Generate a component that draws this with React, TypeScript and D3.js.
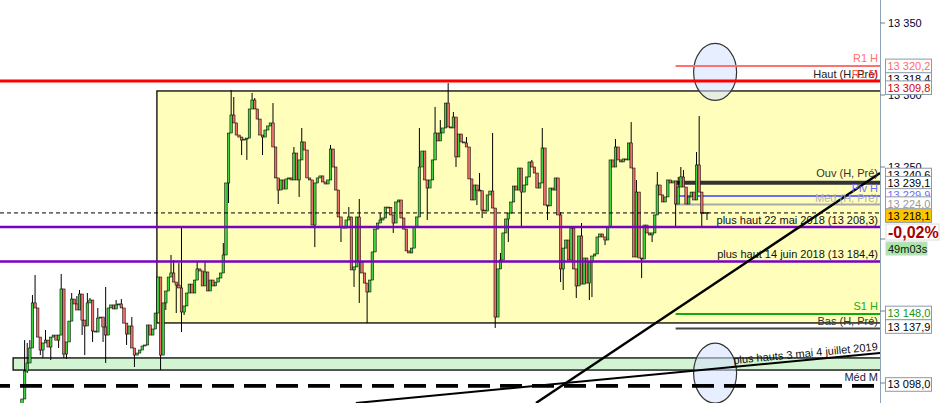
import * as d3 from "d3";

// Bougies (cours de clôture, l'ouverture = clôture précédente)
const firstOpen = 13085.4;
const closes = [
  13088.9, 13108.3, 13113.9, 13124.3, 13155.6, 13152.1, 13131.9, 13122.9, 13127.8, 13129.8,
  13125.0, 13131.9, 13133.3, 13129.8, 13133.3, 13165.3, 13120.1, 13128.5, 13143.0, 13158.3,
  13154.9, 13150.7, 13161.8, 13143.7, 13139.6, 13155.6, 13157.6, 13136.1, 13135.4, 13145.1,
  13145.8, 13138.9, 13133.3, 13152.1, 13154.2, 13151.4, 13154.2, 13154.9, 13152.1, 13141.6,
  13134.0, 13139.6, 13124.3, 13119.4, 13120.8, 13122.9, 13125.7, 13126.4, 13140.3, 13133.3,
  13137.5, 13148.6, 13173.6, 13119.4, 13155.6, 13163.9, 13173.6, 13176.4, 13170.1, 13168.0,
  13166.0, 13149.3, 13153.5, 13162.5, 13168.7, 13162.5, 13171.5, 13179.2, 13177.8, 13167.4,
  13177.1, 13163.9, 13171.5, 13167.4, 13170.1, 13172.9, 13176.4, 13188.9, 13238.9, 13273.6,
  13286.1, 13280.6, 13272.2, 13270.8, 13268.7, 13269.4, 13270.1, 13290.3, 13296.5, 13290.3,
  13283.3, 13272.2, 13270.8, 13275.7, 13278.5, 13280.6, 13263.9, 13242.4, 13234.0, 13241.0,
  13234.7, 13241.7, 13242.4, 13241.0, 13259.7, 13241.0, 13254.9, 13267.4, 13261.8, 13242.4,
  13241.0, 13209.7, 13238.9, 13242.4, 13243.8, 13239.6, 13238.2, 13241.0, 13262.5, 13250.0,
  13234.0, 13215.3, 13208.3, 13207.6, 13213.2, 13215.3, 13178.5, 13180.6, 13215.3, 13184.0,
  13176.4, 13169.4, 13163.2, 13171.5, 13191.0, 13206.9, 13211.1, 13213.2, 13214.6, 13222.2,
  13222.0, 13216.7, 13211.1, 13225.7, 13227.1, 13214.6, 13206.9, 13191.7, 13190.3, 13193.7,
  13208.3, 13215.3, 13250.0, 13261.1, 13241.0, 13235.4, 13241.0, 13254.9, 13273.6, 13268.1,
  13273.6, 13277.1, 13294.4, 13277.8, 13277.1, 13284.7, 13257.0, 13272.9, 13267.4, 13266.7,
  13263.9, 13241.7, 13227.1, 13237.5, 13234.0, 13233.5, 13220.1, 13219.4, 13230.6, 13233.3,
  13221.5, 13145.8, 13179.2, 13185.4, 13204.2, 13213.9, 13218.0, 13225.7, 13236.8, 13234.0,
  13249.3, 13232.6, 13237.5, 13243.1, 13253.5, 13250.0, 13245.8, 13235.4, 13238.9, 13263.2,
  13223.6, 13223.0, 13235.4, 13234.0, 13242.4, 13216.7, 13179.2, 13193.7, 13199.3, 13185.4,
  13207.6, 13179.2, 13167.4, 13202.1, 13168.7, 13186.8, 13169.4, 13184.0, 13188.2, 13189.6,
  13201.4, 13203.5, 13201.4, 13199.3, 13208.3, 13254.9, 13250.0, 13263.9, 13254.9, 13253.5,
  13255.6, 13254.9, 13266.7, 13249.3, 13187.5, 13232.6, 13186.8, 13186.1, 13209.7, 13204.2,
  13202.8, 13204.2, 13216.7, 13237.5, 13230.6, 13225.7, 13229.2, 13241.0, 13238.9, 13240.3,
  13224.3, 13236.1, 13243.1, 13236.1, 13224.3, 13229.2, 13232.6, 13227.1, 13251.4, 13232.6,
  13218.0, 13218.4, 13218.1,
];

// mèches visibles [index, prix]
const wickHighs: [number, number][] = [
  [1, 13129.8], [2, 13127.8], [3, 13129.8], [4, 13161.1], [5, 13175.0], [9, 13136.8], [15, 13175.7],
  [19, 13162.5], [21, 13160.4], [22, 13164.6], [25, 13162.5], [26, 13159.0], [29, 13152.1], [32, 13166.7],
  [36, 13157.6], [38, 13158.3], [42, 13145.8], [57, 13188.9], [58, 13185.4], [60, 13183.3], [61, 13208.3],
  [67, 13184.0], [70, 13184.0], [77, 13197.2], [80, 13303.5], [81, 13298.6], [88, 13301.4], [89, 13297.9],
  [96, 13294.4], [104, 13263.9], [107, 13277.1], [118, 13265.3], [125, 13222.2], [129, 13227.8],
  [137, 13218.0], [152, 13277.1], [158, 13291.7], [160, 13282.6], [163, 13308.3], [165, 13288.2],
  [170, 13270.8], [175, 13245.8], [180, 13273.6], [183, 13190.3], [195, 13254.9], [199, 13277.1],
  [206, 13218.7], [214, 13211.1], [227, 13269.4], [233, 13281.2], [235, 13241.0], [243, 13246.5],
  [251, 13243.1], [252, 13250.0], [253, 13247.9], [258, 13260.4], [259, 13285.4],
];
const wickLows: [number, number][] = [
  [0, 13081.2], [2, 13106.9], [7, 13119.4], [8, 13117.4], [11, 13116.0], [14, 13124.3], [16, 13117.4],
  [17, 13116.7], [23, 13133.3], [24, 13119.4], [27, 13128.5], [31, 13128.5], [32, 13113.9], [40, 13126.4],
  [43, 13111.1], [53, 13109.0], [55, 13150.7], [59, 13148.6], [61, 13135.4], [62, 13147.2], [79, 13225.0],
  [84, 13258.3], [86, 13254.9], [92, 13258.3], [98, 13224.3], [106, 13229.2], [112, 13194.4],
  [122, 13197.9], [127, 13166.7], [129, 13155.6], [132, 13141.6], [142, 13204.2], [155, 13213.2],
  [166, 13250.0], [174, 13223.6], [176, 13214.6], [181, 13138.2], [186, 13197.9], [191, 13207.6],
  [201, 13213.2], [206, 13170.1], [207, 13164.6], [212, 13159.0], [217, 13157.6], [218, 13159.7],
  [223, 13195.8], [237, 13172.9], [241, 13197.9], [250, 13207.6], [260, 13207.6], [262, 13213.2],
];

// niveaux
const currentPrice = 13218.1;
const highPrev = 13309.8;
const purpleLevels = [13208.3, 13184.4];
const purpleLabels = ["plus haut 22 mai 2018 (13 208,3)", "plus haut 14 juin 2018 (13 184,4)"];
const rangeBox = { from: 51.6, top: 13302.8, bottom: 13141.7 };
const supportBand = { from: -3.4, top: 13117.4, bottom: 13109.0 };
const medM = 13098.0;
const sessionStart = 250;
const pivotLevels = [13320.2, 13239.1, 13229.9, 13224.0, 13148.0, 13137.9];
const pivotNames = ["R1 H", "Ouv (H, Pré)", "Piv H", "Méd (H, Pré)", "S1 H", "Bas (H, Pré)"];
const trendA: [number, number][] = [[196.6, 13086.1], [328.2, 13245.8]];
const trendB: [number, number][] = [[127.7, 13086.1], [328.2, 13120.8]];
const ellipseMarks: [number, number][] = [[265.1, 13316.0], [265.1, 13106.9]];
const yTicks = [13350, 13300, 13250, 13200, 13150, 13100];

// étiquettes de l'axe (prix, texte)
const badgeValues = [13318.4, 13320.2, 13309.8, 13240.6, 13239.1, 13229.9, 13224.0, 13218.1, 13148.0, 13137.9, 13098.0];
const badgeTexts = ["13 318,4", "13 320,2", "13 309,8", "13 240,6", "13 239,1", "13 229,9", "13 224,0", "13 218,1", "13 148,0", "13 137,9", "13 098,0"];
const changeText = "-0,02%";
const timerText = "49m03s";

const W = 940;
const H = 403;
const plotRight = 880;
const font = "'Liberation Sans', Arial, sans-serif";

const pivotStyle = [
  { color: "#ff7070", width: 2, text: "#ff7070", dy: -3.5 },
  { color: "#333333", width: 4, text: "#333333", dy: -6 },
  { color: "#6c6cff", width: 2, text: "#6c6cff", dy: -3.5 },
  { color: "#a9a9a9", width: 2, text: "#b0b0b0", dy: -2.8 },
  { color: "#10aa10", width: 2, text: "#22aa22", dy: -3.8 },
  { color: "#444444", width: 2, text: "#333333", dy: -3.8 },
];
const badgeStyle = [
  { dy: 10.5, color: "#000", fill: "#fff" },
  { dy: 0, color: "#ff6a6a", fill: "#fff" },
  { dy: 6.8, color: "#e00000", fill: "#fff" },
  { dy: -5.5, color: "#000", fill: "#fff" },
  { dy: 0.5, color: "#000", fill: "#fff" },
  { dy: -0.5, color: "#6c6cff", fill: "#fff" },
  { dy: -0.8, color: "#999", fill: "#fff" },
  { dy: 2.6, color: "#000", fill: "#ffc400" },
  { dy: -0.9, color: "#119911", fill: "#fff" },
  { dy: -1.9, color: "#000", fill: "#fff" },
  { dy: -1.4, color: "#000", fill: "#fff" },
];

export default function App() {
  const n = closes.length;
  const x = d3.scaleLinear().domain([0, n - 1]).range([22, 707]);
  const y = d3.scaleLinear().domain([13350, 13100]).range([23, 383]);

  const hi = new Map(wickHighs);
  const lo = new Map(wickLows);
  const candles = closes.map((c, i) => {
    const o = i === 0 ? firstOpen : closes[i - 1];
    return {
      i, o, c,
      h: Math.max(o, c, hi.get(i) ?? -Infinity),
      l: Math.min(o, c, lo.get(i) ?? Infinity),
    };
  });

  const line = d3.line<[number, number]>().x(d => x(d[0])).y(d => y(d[1]));

  const bx = x(rangeBox.from);
  const gx = x(supportBand.from);
  const sx = x(sessionStart);

  // angle du texte le long de la ligne B
  const b0 = [x(trendB[0][0]), y(trendB[0][1])];
  const b1 = [x(trendB[1][0]), y(trendB[1][1])];
  const slope = (b1[1] - b0[1]) / (b1[0] - b0[0]);
  const angle = (Math.atan(slope) * 180) / Math.PI;
  const tbx = plotRight - 2;
  const tby = b0[1] + slope * (tbx - b0[0]) - 3;

  const curY = y(currentPrice) + 2.6;

  // boîtes de l'axe, pour masquer les graduations couvertes
  const badgeCenters = badgeValues.map((v, k) => y(v) + badgeStyle[k].dy);
  const covered = (t: number) =>
    badgeCenters.some(c => Math.abs(c - y(t)) < 11) || Math.abs(curY + 16 - y(t)) < 10;

  return (
    <div style={{ position: "absolute", left: 0, top: 0 }}>
      <svg width={W} height={H} style={{ display: "block", background: "#fff" }} fontFamily={font}>
        <defs>
          <clipPath id="plot">
            <rect x={0} y={0} width={plotRight} height={H} />
          </clipPath>
        </defs>
        <g clipPath="url(#plot)">
          <rect x={bx} y={y(rangeBox.top)} width={plotRight - bx + 2} height={y(rangeBox.bottom) - y(rangeBox.top)}
            fill="#ffffbb" stroke="#000" strokeWidth={1.3} />
          <rect x={gx} y={y(supportBand.top)} width={plotRight - gx + 2} height={y(supportBand.bottom) - y(supportBand.top)}
            fill="#d2f4d2" stroke="#000" strokeWidth={1.3} />

          {ellipseMarks.map((d, k) => (
            <ellipse key={k} cx={x(d[0])} cy={y(d[1])} rx={21.5} ry={k === 0 ? 28.5 : 30}
              fill="rgb(212,224,255)" fillOpacity={0.55} stroke="#333" strokeWidth={1.2} />
          ))}

          <line x1={0} x2={plotRight} y1={y(highPrev)} y2={y(highPrev)} stroke="#ff0000" strokeWidth={3} />

          {pivotLevels.map((v, k) => (
            <line key={k} x1={sx} x2={plotRight} y1={y(v)} y2={y(v)}
              stroke={pivotStyle[k].color} strokeWidth={pivotStyle[k].width} />
          ))}

          {candles.map(d => {
            const cx = x(d.i);
            const top = y(Math.max(d.o, d.c));
            const bot = y(Math.min(d.o, d.c));
            const up = d.c >= d.o;
            return (
              <g key={d.i}>
                <line x1={cx} x2={cx} y1={y(d.h)} y2={y(d.l)} stroke="#000" strokeWidth={1} />
                <rect x={cx - 1.25} y={top} width={2.5} height={Math.max(bot - top, 1)}
                  fill={up ? "#3fd23f" : "#ea6f6a"} stroke="#000" strokeWidth={0.55} />
              </g>
            );
          })}

          {purpleLevels.map((v, k) => (
            <line key={k} x1={0} x2={plotRight} y1={y(v)} y2={y(v)} stroke="#7a00c2" strokeWidth={2.4} />
          ))}

          <line x1={0} x2={plotRight} y1={y(currentPrice)} y2={y(currentPrice)}
            stroke="#000" strokeWidth={1} strokeDasharray="4 3" />
          <line x1={0} x2={plotRight} y1={y(medM)} y2={y(medM)}
            stroke="#000" strokeWidth={3.6} strokeDasharray="22 10" strokeDashoffset={12} />

          <path d={line(trendA) ?? ""} fill="none" stroke="#000" strokeWidth={2.4} />
          <path d={line(trendB) ?? ""} fill="none" stroke="#000" strokeWidth={2} />

          <g fontSize={11} textAnchor="end">
            <text x={plotRight - 2} y={y(highPrev) - 2.5} fill="#222">Haut (H, Pré)</text>
            <text x={plotRight - 2} y={y(highPrev) - 2.5} fill="#ff2020" fillOpacity={0.85}>R1 M</text>
            {pivotLevels.map((v, k) => (
              <text key={k} x={plotRight - 2} y={y(v) + pivotStyle[k].dy} fill={pivotStyle[k].text}>
                {pivotNames[k]}
              </text>
            ))}
            {purpleLevels.map((v, k) => (
              <text key={k} x={plotRight - 2} y={y(v) - 3} fill="#111">{purpleLabels[k]}</text>
            ))}
            <text x={plotRight - 2} y={y(medM) - 4.4} fill="#1a1a40">Méd M</text>
            <text x={tbx} y={tby} fill="#111" transform={`rotate(${angle},${tbx},${tby})`}>
              plus hauts 3 mai 4 juillet 2019
            </text>
          </g>
        </g>

        <line x1={plotRight + 0.5} x2={plotRight + 0.5} y1={0} y2={H} stroke="#8ea3b8" strokeWidth={1} />
        {yTicks.map(t => (
          <g key={t}>
            <line x1={plotRight} x2={plotRight + 5} y1={y(t)} y2={y(t)} stroke="#6f8193" />
            {(!covered(t) || t >= 13250) && (
              <text x={888} y={y(t) + 4} fontSize={11} fill="#000033">{d3.format(",")(t).replace(",", " ")}</text>
            )}
          </g>
        ))}

        {badgeValues.map((v, k) => {
          const cy = badgeCenters[k];
          return (
            <g key={k}>
              <rect x={885.5} y={cy - 6.8} width={46} height={13.6} fill={badgeStyle[k].fill} stroke="#8a9aaa" strokeWidth={1} />
              <text x={887.5} y={cy + 4} fontSize={11} fill={badgeStyle[k].color}>{badgeTexts[k]}</text>
            </g>
          );
        })}

        <rect x={886} y={curY + 8.5} width={53} height={16} fill="#fff" stroke="#dcdcdc" strokeWidth={1} />
        <text x={888} y={curY + 22.5} fontSize={16} fontWeight="bold" fill="#a80000">{changeText}</text>
        <rect x={886} y={curY + 26.5} width={41} height={13} fill="#a8e8a8" stroke="#c8d8c8" strokeWidth={1} />
        <text x={888} y={curY + 37} fontSize={11} fill="#111">{timerText}</text>
      </svg>
    </div>
  );
}
